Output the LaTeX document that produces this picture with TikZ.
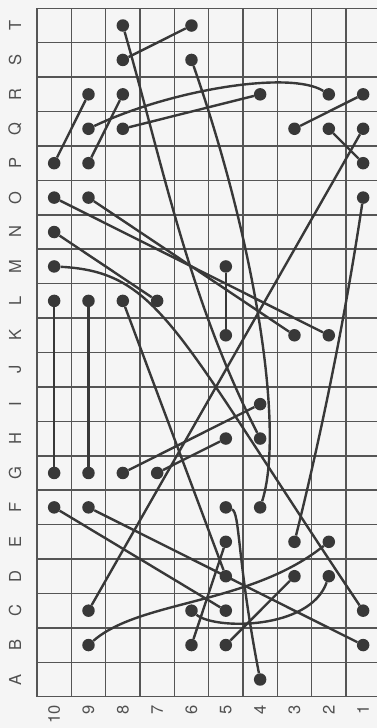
\documentclass[tikz,border=0pt]{standalone}
\usepackage{fontspec}
\setmainfont{TeX Gyre Heros}
\definecolor{ink}{HTML}{383838}
\definecolor{gridc}{HTML}{555555}
\definecolor{paper}{HTML}{F5F5F5}
\definecolor{labc}{HTML}{505050}
\newcommand\pdot[3]{\node[dot] (#1) at ({37+(10.5-#2)*34.33},{8.3+(20.5-#3)*34.42}) {};}
\begin{document}
\begin{tikzpicture}[x=1pt,y=-1pt,
  dot/.style={circle,fill=ink,inner sep=0pt,minimum size=12.5pt},
  link/.style={draw=ink,line width=2.4pt},
  gridline/.style={draw=gridc,line width=1.5pt},
  lab/.style={rotate=90,text=labc,font=\fontsize{16.5}{16.5}\selectfont,inner sep=0pt}]
\useasboundingbox (0,0) rectangle (377,728);
\fill[paper] (0,0) rectangle (377,728);
\begin{scope}
\clip (0,0) rectangle (377,728);
\foreach \k in {0,...,10} \draw[gridline] ({37+\k*34.33},8.3) -- ({37+\k*34.33},696.7);
\foreach \k in {0,...,20} \draw[gridline] (36.25,{8.3+\k*34.42}) -- (382,{8.3+\k*34.42});
\end{scope}
% row labels
\foreach \l [count=\r] in {A,...,T}
  \node[lab] (row\l) at (15,{8.3+(20.5-\r)*34.42}) {\l};
% column labels
\foreach \c in {1,...,10}
  \node[lab,anchor=east] (col\c) at ({37+(10.5-\c)*34.33},705) {\c};
% dots
\pdot{d8T}{8}{20} \pdot{d6T}{6}{20} \pdot{d8S}{8}{19} \pdot{d6S}{6}{19}
\pdot{d9R}{9}{18} \pdot{d8R}{8}{18} \pdot{d4R}{4}{18} \pdot{d2R}{2}{18} \pdot{d1R}{1}{18}
\pdot{d9Q}{9}{17} \pdot{d8Q}{8}{17} \pdot{d3Q}{3}{17} \pdot{d2Q}{2}{17} \pdot{d1Q}{1}{17}
\pdot{d10P}{10}{16} \pdot{d9P}{9}{16} \pdot{d1P}{1}{16}
\pdot{d10O}{10}{15} \pdot{d9O}{9}{15} \pdot{d1O}{1}{15}
\pdot{d10N}{10}{14}
\pdot{d10M}{10}{13} \pdot{d5M}{5}{13}
\pdot{d10L}{10}{12} \pdot{d9L}{9}{12} \pdot{d8L}{8}{12} \pdot{d7L}{7}{12}
\pdot{d5K}{5}{11} \pdot{d3K}{3}{11} \pdot{d2K}{2}{11}
\pdot{d4I}{4}{9}
\pdot{d5H}{5}{8} \pdot{d4H}{4}{8}
\pdot{d10G}{10}{7} \pdot{d9G}{9}{7} \pdot{d8G}{8}{7} \pdot{d7G}{7}{7}
\pdot{d10F}{10}{6} \pdot{d9F}{9}{6} \pdot{d5F}{5}{6} \pdot{d4F}{4}{6}
\pdot{d5E}{5}{5} \pdot{d3E}{3}{5} \pdot{d2E}{2}{5}
\pdot{d5D}{5}{4} \pdot{d3D}{3}{4} \pdot{d2D}{2}{4}
\pdot{d9C}{9}{3} \pdot{d6C}{6}{3} \pdot{d5C}{5}{3} \pdot{d1C}{1}{3}
\pdot{d9B}{9}{2} \pdot{d6B}{6}{2} \pdot{d5B}{5}{2} \pdot{d1B}{1}{2}
\pdot{d4A}{4}{1}
% connectors
\draw[link] (d8S) -- (d6T);
\draw[link] (d8T) .. controls (163.6,168) and (189,299) .. (d4H);
\draw[link] (d6S) .. controls (255,242) and (285,430) .. (d4F);
\draw[link] (d9R) -- (d10P);
\draw[link] (d8R) -- (d9P);
\draw[link] (d9Q) .. controls (170,90) and (290,70) .. (d2R);
\draw[link] (d8Q) -- (d4R);
\draw[link] (d3Q) -- (d1R);
\draw[link] (d2Q) -- (d1P);
\draw[link] (d1Q) -- (d9C);
\draw[link] (d1O) .. controls (346,312) and (323,427) .. (d3E);
\draw[link] (d10O) -- (d2K);
\draw[link] (d9O) -- (d3K);
\draw[link] (d10N) -- (d7L);
\draw[link] (d10M) .. controls (160,272) and (175,330) .. (d1C);
\draw[link] (d10L) -- (d10G);
\draw[link] (d9L) -- (d9G);
\draw[link] (d8L) -- (d5D);
\draw[link] (d5M) -- (d5K);
\draw[link] (d8G) -- (d4I);
\draw[link] (d7G) -- (d5H);
\draw[link] (d10F) -- (d5C);
\draw[link] (d9F) -- (d1B);
\draw[link] (d9B) .. controls (140,600) and (250,605) .. (d2E);
\draw[link] (d6C) .. controls (215,630) and (310,630) .. (d2D);
\draw[link] (d6B) -- (d5E);
\draw[link] (d5B) -- (d3D);
\draw[link] (d5F) .. controls (240,512) and (237,560) .. (d4A);
\end{tikzpicture}
\end{document}
